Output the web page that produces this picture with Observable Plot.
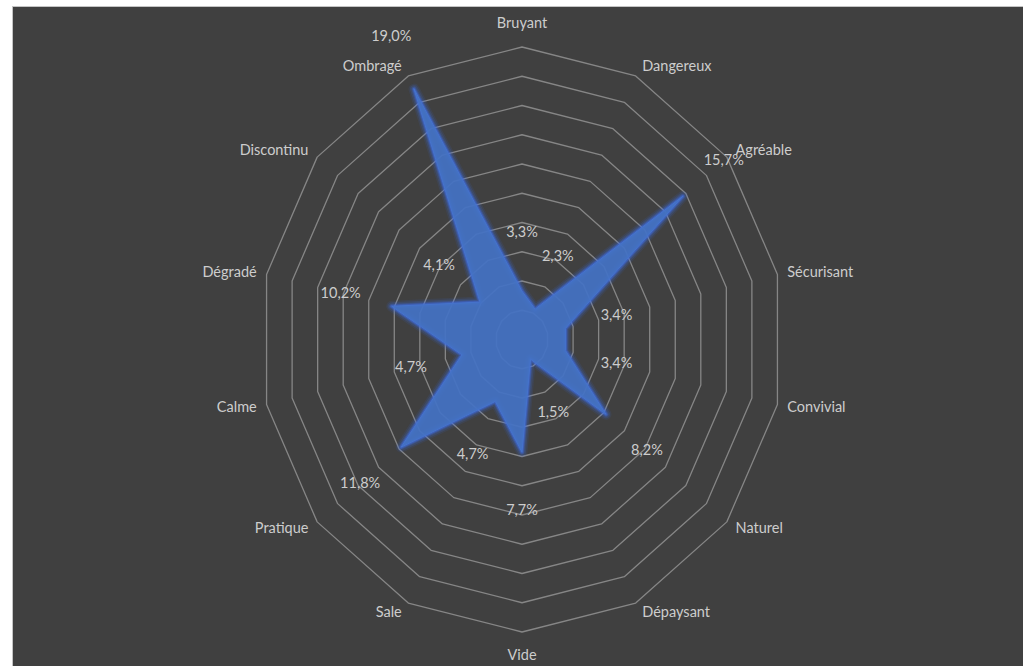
<!DOCTYPE html>
<html><head><meta charset="utf-8">
<script src="https://cdn.jsdelivr.net/npm/d3@7"></script>
<script src="https://cdn.jsdelivr.net/npm/@observablehq/plot@0.6"></script>
<style>
html,body{margin:0;padding:0;background:#fff;width:1023px;height:666px;overflow:hidden}
#bg{position:absolute;left:12px;top:6px;width:1011px;height:660px;background:#404040;border-left:1px solid #c4c4c4;border-top:1px solid #c4c4c4;}
#chart{position:absolute;left:0;top:0}
</style></head><body><div id="bg"></div><div id="chart"></div>
<script>
const categories = ["Bruyant","Dangereux","Agréable","Sécurisant","Convivial","Naturel","Dépaysant","Vide","Sale","Pratique","Calme","Dégradé","Discontinu","Ombragé"];
const values = [3.3, 2.3, 15.7, 3.4, 3.4, 8.2, 1.5, 7.7, 4.7, 11.8, 4.7, 10.2, 4.1, 19.0];
const valueLabels = ["3,3%","2,3%","15,7%","3,4%","3,4%","8,2%","1,5%","7,7%","4,7%","11,8%","4,7%","10,2%","4,1%","19,0%"];
const ringLevels = [2, 4, 6, 8, 10, 12, 14, 16, 18, 20];

const N = categories.length;
const maxR = 20;
const xRange = [259.5, 783.5], yRange = [631.5, 46.5];
const pxX = (xRange[1] - xRange[0]) / (2 * maxR);
const pxY = (yRange[0] - yRange[1]) / (2 * maxR);
const ang = i => 2 * Math.PI * i / N;

const rings = ringLevels.flatMap(r => categories.map((c, i) => ({ring: r, x: r * Math.sin(ang(i)), y: r * Math.cos(ang(i))})));
const radar = values.map((v, i) => ({x: v * Math.sin(ang(i)), y: v * Math.cos(ang(i))}));
const dataLbl = values.map((v, i) => ({x: (v + 4) * Math.sin(ang(i)), y: (v + 4) * Math.cos(ang(i)), t: valueLabels[i]}));

const catLbl = categories.map((c, i) => {
  const s = Math.sin(ang(i)), co = Math.cos(ang(i));
  let anchor, dxp, dyp;
  if (Math.abs(s) < 0.1) { anchor = "middle"; dxp = 0; dyp = co > 0 ? -24 : 23; }
  else { anchor = s > 0 ? "start" : "end"; const gap = 4 + 6 * Math.abs(s); dxp = Math.sign(s) * gap; dyp = -10.5 * co; }
  return {x: maxR * s + dxp / pxX, y: maxR * co - dyp / pxY, t: c, anchor};
});

const font = "Lato, 'Open Sans', sans-serif";
const txtCol = "#cdcdcd";
const fs = 14.5;
const textMark = (anchor) => Plot.text(catLbl.filter(d => d.anchor === anchor), {x: "x", y: "y", text: "t", textAnchor: anchor, fill: txtCol, fontSize: fs});
const glow = (w, o) => Plot.line(radar, {x: "x", y: "y", curve: "linear-closed", stroke: "#3d6ee6", strokeWidth: w, strokeOpacity: o, strokeLinejoin: "round"});

const chart = Plot.plot({
  width: 1023, height: 666,
  margin: 0,
  style: {background: "transparent", fontFamily: font},
  x: {domain: [-maxR, maxR], range: xRange, axis: null},
  y: {domain: [-maxR, maxR], range: yRange, axis: null},
  marks: [
    Plot.line(rings, {x: "x", y: "y", z: "ring", curve: "linear-closed", stroke: "#868686", strokeWidth: 1.3}),
    glow(11, 0.1), glow(8, 0.16), glow(5, 0.26), glow(3, 0.45),
    Plot.line(radar, {x: "x", y: "y", curve: "linear-closed", fill: "#4472C4", fillOpacity: 0.93, stroke: "#4673cc", strokeWidth: 1}),
    Plot.text(dataLbl, {x: "x", y: "y", text: "t", fill: txtCol, fontSize: fs}),
    textMark("start"), textMark("end"), textMark("middle")
  ]
});
document.getElementById("chart").appendChild(chart);
</script></body></html>
